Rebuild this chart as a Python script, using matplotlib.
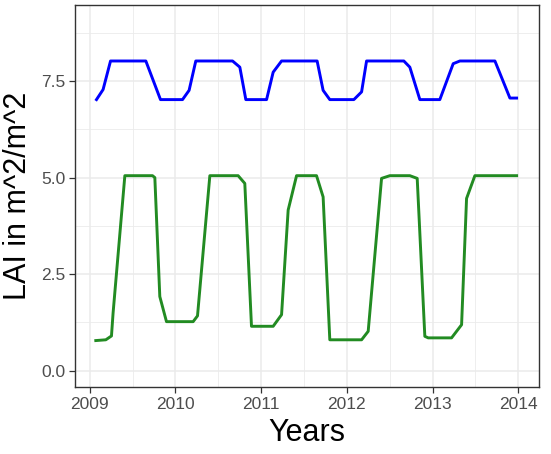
import matplotlib.pyplot as plt
from matplotlib.ticker import MultipleLocator

plt.rcParams['font.family'] = ['Liberation Sans', 'DejaVu Sans']

# LAI time series (decimal years, m^2/m^2)
evergreen_years = [2009.078, 2009.155, 2009.242, 2009.654, 2009.825, 2010.082,
                   2010.159, 2010.237, 2010.666, 2010.751, 2010.821, 2011.063,
                   2011.140, 2011.238, 2011.653, 2011.723, 2011.801, 2012.082,
                   2012.172, 2012.230, 2012.665, 2012.735, 2012.852, 2013.085,
                   2013.241, 2013.319, 2013.728, 2013.903, 2013.981]
evergreen_lai = [7.02, 7.28, 8.02, 8.02, 7.02, 7.02,
                 7.26, 8.02, 8.02, 7.86, 7.02, 7.02,
                 7.73, 8.02, 8.02, 7.26, 7.02, 7.02,
                 7.22, 8.02, 8.02, 7.86, 7.02, 7.02,
                 7.95, 8.02, 8.02, 7.06, 7.06]

deciduous_years = [2009.070, 2009.187, 2009.253, 2009.272, 2009.409, 2009.732,
                   2009.759, 2009.817, 2009.895, 2010.206, 2010.257, 2010.401,
                   2010.731, 2010.809, 2010.887, 2011.140, 2011.238, 2011.315,
                   2011.413, 2011.646, 2011.723, 2011.801, 2012.172, 2012.249,
                   2012.405, 2012.502, 2012.735, 2012.821, 2012.910, 2012.949,
                   2013.222, 2013.339, 2013.397, 2013.494, 2013.981]
deciduous_lai = [0.78, 0.80, 0.90, 1.50, 5.05, 5.05,
                 5.00, 1.92, 1.27, 1.27, 1.42, 5.05,
                 5.05, 4.85, 1.15, 1.15, 1.45, 4.16,
                 5.05, 5.05, 4.50, 0.80, 0.80, 1.02,
                 4.98, 5.05, 5.05, 4.98, 0.89, 0.85,
                 0.85, 1.19, 4.46, 5.05, 5.05]

year_ticks = [2009, 2010, 2011, 2012, 2013, 2014]

fig = plt.figure(figsize=(5.51, 4.54), dpi=100)
ax = fig.add_axes([0.137, 0.1465, 0.841, 0.8425])

ax.plot(evergreen_years, evergreen_lai, color='#0000FF', lw=2.1)
ax.plot(deciduous_years, deciduous_lai, color='#228B22', lw=2.1)

ax.set_xlim(2008.833, 2014.241)
ax.set_ylim(-0.435, 9.47)
ax.set_xticks(year_ticks)
ax.set_xticklabels([str(y) for y in year_ticks])
ax.xaxis.set_minor_locator(MultipleLocator(0.5))
ax.yaxis.set_major_locator(MultipleLocator(2.5))
ax.yaxis.set_minor_locator(MultipleLocator(1.25))
ax.yaxis.set_major_formatter(plt.FormatStrFormatter('%.1f'))

# theme_bw look
ax.grid(which='major', color='#EBEBEB', lw=1.1)
ax.grid(which='minor', color='#EBEBEB', lw=0.6)
ax.set_axisbelow(True)
for s in ax.spines.values():
    s.set_color('#333333')
    s.set_linewidth(1.0)
ax.tick_params(which='major', length=4, width=0.9, color='#333333',
               labelcolor='#4D4D4D', labelsize=12.5, pad=3)
ax.tick_params(which='minor', length=0)

ax.set_xlabel('Years', fontsize=22, labelpad=4)
ax.set_ylabel('LAI in m^2/m^2', fontsize=22, labelpad=6)

fig.savefig('out.png', dpi=100)
